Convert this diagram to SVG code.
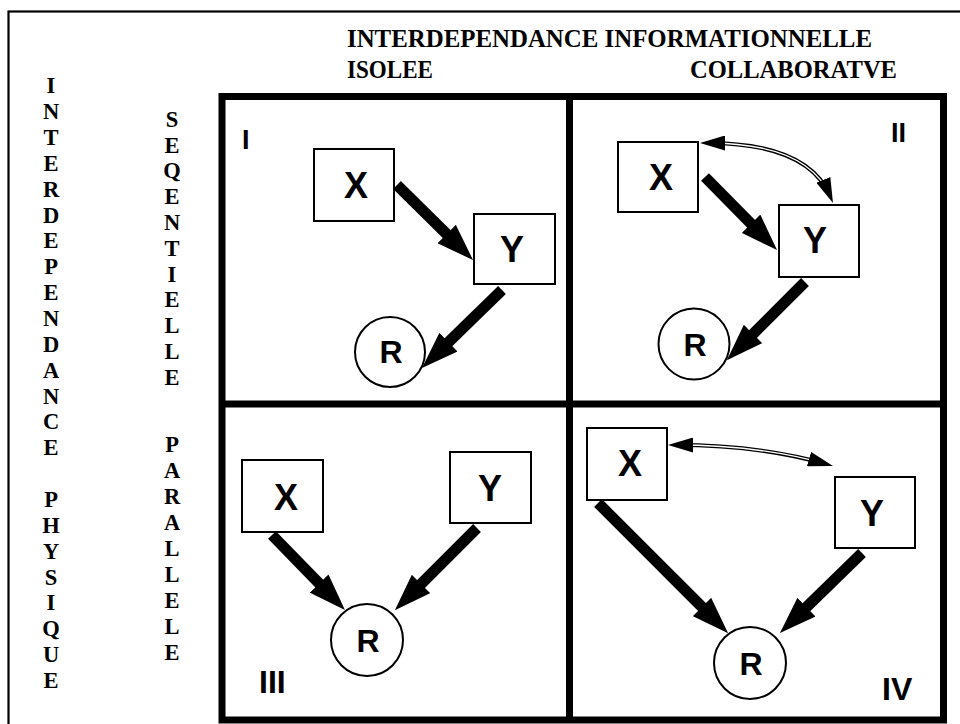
<svg xmlns="http://www.w3.org/2000/svg" width="960" height="724" viewBox="0 0 960 724">
  <style>
    .hdr { font-family: "Liberation Serif", "Times New Roman", serif; font-weight: bold; font-size: 24.5px; fill: #000; }
    .vert { font-family: "Liberation Serif", "Times New Roman", serif; font-weight: bold; font-size: 22.5px; fill: #000; text-anchor: middle; }
    .node { fill: #fff; stroke: #000; stroke-width: 2; }
    .lbl { font-family: "Liberation Sans", Arial, sans-serif; font-weight: bold; font-size: 36px; fill: #000; text-anchor: middle; }
    .rlbl { font-family: "Liberation Sans", Arial, sans-serif; font-weight: bold; font-size: 32px; fill: #000; text-anchor: middle; }
    .quad { font-family: "Liberation Sans", Arial, sans-serif; font-weight: bold; fill: #000; }
    .grid { fill: none; stroke: #000; stroke-width: 7; }
    .flow { fill: none; stroke: #000; stroke-width: 11; marker-end: url(#head); }
    .link-outer { fill: none; stroke: #000; stroke-width: 4; }
    .link-inner { fill: none; stroke: #fff; stroke-width: 1.4; marker-start: url(#thin); marker-end: url(#thin); }
  </style>
  <defs>
    <marker id="head" markerUnits="userSpaceOnUse" viewBox="0 0 37 26" markerWidth="37" markerHeight="26" refX="17" refY="13" orient="auto">
      <path d="M0,0 L37,13 L0,26 z" fill="#000"/>
    </marker>
    <marker id="thin" markerUnits="userSpaceOnUse" viewBox="0 0 25 15" markerWidth="25" markerHeight="15" refX="18" refY="7.5" orient="auto-start-reverse">
      <path d="M0,0 L25,7.5 L0,15 z" fill="#000"/>
    </marker>
  </defs>

  <rect width="960" height="724" fill="#fff"/>

  <!-- outer thin frame -->
  <rect x="8.5" y="11.5" width="1000" height="800" fill="none" stroke="#000" stroke-width="2.2"/>

  <!-- headings -->
  <text class="hdr" x="347" y="47" textLength="525" lengthAdjust="spacingAndGlyphs">INTERDEPENDANCE INFORMATIONNELLE</text>
  <text class="hdr" x="347" y="78" textLength="86" lengthAdjust="spacingAndGlyphs">ISOLEE</text>
  <text class="hdr" x="690" y="78" textLength="207" lengthAdjust="spacingAndGlyphs">COLLABORATVE</text>

  <!-- vertical heading: physical interdependence -->
  <g id="axis-physique">
    <text class="vert" x="51" y="93.3">I</text>
    <text class="vert" x="51" y="119.2">N</text>
    <text class="vert" x="51" y="145">T</text>
    <text class="vert" x="51" y="170.9">E</text>
    <text class="vert" x="51" y="196.7">R</text>
    <text class="vert" x="51" y="222.6">D</text>
    <text class="vert" x="51" y="248.4">E</text>
    <text class="vert" x="51" y="274.3">P</text>
    <text class="vert" x="51" y="300.1">E</text>
    <text class="vert" x="51" y="326">N</text>
    <text class="vert" x="51" y="351.8">D</text>
    <text class="vert" x="51" y="377.7">A</text>
    <text class="vert" x="51" y="403.5">N</text>
    <text class="vert" x="51" y="429.4">C</text>
    <text class="vert" x="51" y="455.2">E</text>
    <text class="vert" x="51" y="506.9">P</text>
    <text class="vert" x="51" y="532.8">H</text>
    <text class="vert" x="51" y="558.6">Y</text>
    <text class="vert" x="51" y="584.5">S</text>
    <text class="vert" x="51" y="610.3">I</text>
    <text class="vert" x="51" y="636.2">Q</text>
    <text class="vert" x="51" y="662">U</text>
    <text class="vert" x="51" y="687.9">E</text>
  </g>

  <!-- vertical heading: sequential / parallel -->
  <g id="axis-mode">
    <text class="vert" x="172" y="126.7">S</text>
    <text class="vert" x="172" y="152.5">E</text>
    <text class="vert" x="172" y="178.3">Q</text>
    <text class="vert" x="172" y="204.1">E</text>
    <text class="vert" x="172" y="229.9">N</text>
    <text class="vert" x="172" y="255.7">T</text>
    <text class="vert" x="172" y="281.5">I</text>
    <text class="vert" x="172" y="307.3">E</text>
    <text class="vert" x="172" y="333.1">L</text>
    <text class="vert" x="172" y="358.9">L</text>
    <text class="vert" x="172" y="384.7">E</text>
    <text class="vert" x="172" y="451.7">P</text>
    <text class="vert" x="172" y="477.7">A</text>
    <text class="vert" x="172" y="503.7">R</text>
    <text class="vert" x="172" y="529.7">A</text>
    <text class="vert" x="172" y="555.7">L</text>
    <text class="vert" x="172" y="581.7">L</text>
    <text class="vert" x="172" y="607.7">E</text>
    <text class="vert" x="172" y="633.7">L</text>
    <text class="vert" x="172" y="659.7">E</text>
  </g>

  <!-- 2x2 grid -->
  <g id="grid">
    <rect class="grid" x="222" y="96.5" width="721.5" height="623.5"/>
    <line class="grid" x1="569.5" y1="96.5" x2="569.5" y2="720"/>
    <line class="grid" x1="222" y1="404" x2="940" y2="404"/>
  </g>

  <!-- quadrant numbers -->
  <text class="quad" x="242" y="149" font-size="27">I</text>
  <text class="quad" x="891" y="142" font-size="27">II</text>
  <text class="quad" x="259" y="693" font-size="32">III</text>
  <text class="quad" x="882" y="700" font-size="32">IV</text>

  <!-- connectors -->
  <g id="connectors">
    <line class="flow" x1="397" y1="185" x2="458.8" y2="246"/>
    <line class="flow" x1="502" y1="290" x2="436.3" y2="354"/>
    <line class="flow" x1="705" y1="177" x2="763" y2="235.8"/>
    <line class="flow" x1="805" y1="282" x2="741" y2="346"/>
    <line class="flow" x1="272" y1="535" x2="331" y2="595.7"/>
    <line class="flow" x1="477" y1="528" x2="409" y2="596"/>
    <line class="flow" x1="598" y1="503" x2="714" y2="619"/>
    <line class="flow" x1="862" y1="553" x2="794.3" y2="619"/>
    <path class="link-outer" d="M707,143 Q808,143 830.3,196.5"/>
    <path class="link-inner" d="M707,143 Q808,143 830.3,196.5"/>
    <path class="link-outer" d="M675,445 Q760,445 826.3,464.1"/>
    <path class="link-inner" d="M675,445 Q760,445 826.3,464.1"/>
  </g>

  <!-- quadrant I -->
  <g id="q1-x"><rect class="node" x="314" y="149" width="80" height="72"/><text class="lbl" x="356" y="198">X</text></g>
  <g id="q1-y"><rect class="node" x="474" y="214" width="81" height="70"/><text class="lbl" x="512" y="262">Y</text></g>
  <g id="q1-r"><circle class="node" cx="390" cy="352" r="35"/><text class="rlbl" x="391" y="363">R</text></g>

  <!-- quadrant II -->
  <g id="q2-x"><rect class="node" x="618" y="142" width="80" height="70"/><text class="lbl" x="661" y="190">X</text></g>
  <g id="q2-y"><rect class="node" x="779" y="205" width="80" height="72"/><text class="lbl" x="815" y="253">Y</text></g>
  <g id="q2-r"><circle class="node" cx="694" cy="344" r="35.5"/><text class="rlbl" x="695" y="356">R</text></g>

  <!-- quadrant III -->
  <g id="q3-x"><rect class="node" x="242" y="460" width="81" height="72"/><text class="lbl" x="286" y="510">X</text></g>
  <g id="q3-y"><rect class="node" x="450" y="452" width="81" height="71"/><text class="lbl" x="490" y="501">Y</text></g>
  <g id="q3-r"><circle class="node" cx="367" cy="640" r="36"/><text class="rlbl" x="368" y="652">R</text></g>

  <!-- quadrant IV -->
  <g id="q4-x"><rect class="node" x="587" y="428" width="80" height="72"/><text class="lbl" x="630" y="476">X</text></g>
  <g id="q4-y"><rect class="node" x="835" y="477" width="80" height="71"/><text class="lbl" x="872" y="526">Y</text></g>
  <g id="q4-r"><circle class="node" cx="750" cy="663" r="36"/><text class="rlbl" x="751" y="675">R</text></g>
</svg>
